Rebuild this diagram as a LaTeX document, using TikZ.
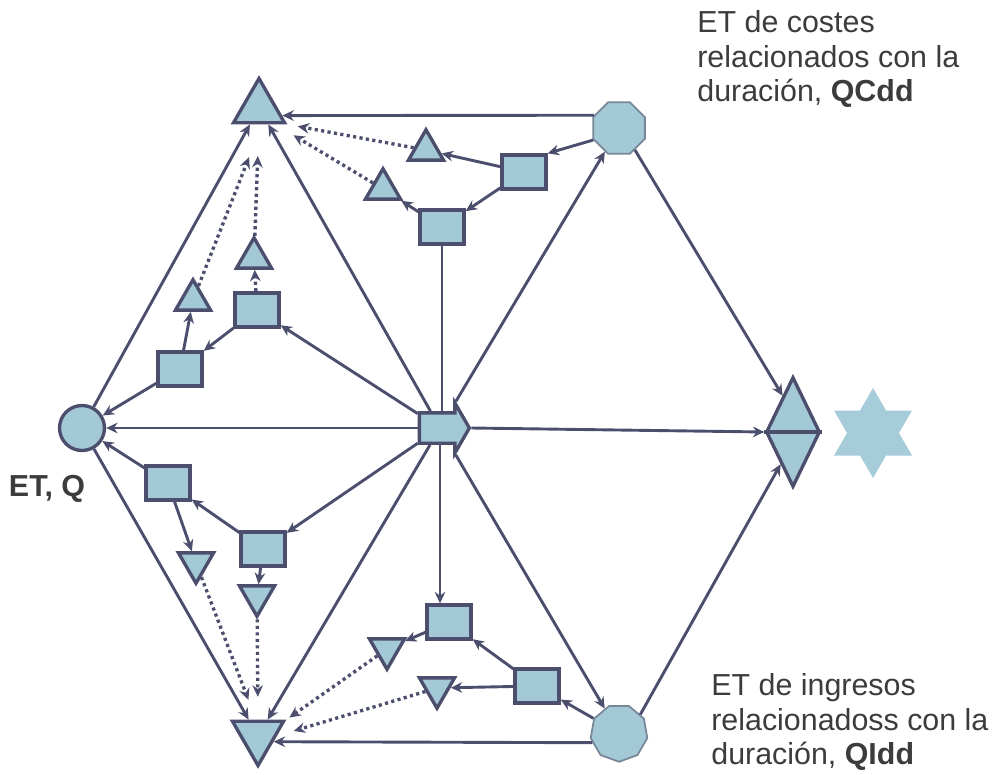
\documentclass[tikz,border=0pt]{standalone}
\usepackage{fontspec}
\setmainfont{Liberation Sans}
\usetikzlibrary{shapes.geometric,shapes.arrows,arrows.meta}

\definecolor{fillblue}{RGB}{163,200,214}
\definecolor{starblue}{RGB}{166,203,217}
\definecolor{edge}{RGB}{76,78,110}
\definecolor{octedge}{RGB}{120,135,152}
\definecolor{txtgray}{RGB}{60,60,62}

\tikzset{
  shapebox/.style={draw=edge, line width=1.9pt, fill=fillblue, inner sep=0pt},
  rectbox/.style={shapebox, rectangle, minimum width=8.8mm, minimum height=6.8mm},
  bigup/.style={shapebox, regular polygon, regular polygon sides=3, minimum size=11.8mm},
  bigdown/.style={bigup, shape border rotate=180},
  smallup/.style={shapebox, regular polygon, regular polygon sides=3, minimum size=8.1mm},
  smalldown/.style={smallup, shape border rotate=180},
  octbox/.style={draw=octedge, line width=1pt, fill=fillblue, inner sep=0pt, regular polygon},
  tipstyle/.style={-{Stealth[length=6.5pt,width=6pt]}},
  conn/.style={draw=edge, line width=1.65pt, tipstyle},
  plainconn/.style={draw=edge, line width=1.65pt},
  dotconn/.style={draw=edge, line width=1.9pt, dash pattern=on 1.8pt off 1.9pt, tipstyle},
  txtnote/.style={text=txtgray, font=\fontsize{17.3}{19.8}\selectfont, inner sep=0pt, align=left},
}

\begin{document}
\begin{tikzpicture}[x=0.02cm, y=-0.02cm]
\useasboundingbox (0,0) rectangle (993,774);

% outer ring of the hexagon
\node[shapebox, circle, minimum size=9mm] (C) at (82,428) {};
\node[bigup] (T1) at (259,108) {};
\node[bigdown] (T2) at (258,736) {};
\node[octbox, regular polygon sides=8, minimum size=11.2mm] (O1) at (619,128) {};
\node[octbox, regular polygon sides=9, shape border rotate=180, minimum size=11.5mm] (O2) at (619,733) {};
\node[shapebox, diamond, minimum width=10.8mm, minimum height=22mm] (D) at (793,432) {};
\draw[edge, line width=1.9pt] (D.west) -- (D.east);
\node[fill=starblue, star, star points=6, star point ratio=1.732, minimum size=18mm, inner sep=0pt] (S) at (873,433) {};

% central arrow
\node[shapebox, single arrow, single arrow tip angle=120, single arrow head extend=2mm,
      inner xsep=0pt, inner ysep=2.7mm, minimum height=10mm] (A) at (440,428) {};

% upper right group
\node[rectbox] (R1) at (524,172) {};
\node[rectbox] (R2) at (442,227) {};
\node[smallup] (t1) at (426,150) {};
\node[smallup] (t2) at (383,189) {};

% upper left group
\node[rectbox] (R3) at (180,369) {};
\node[rectbox] (R4) at (257,310) {};
\node[smallup] (t3) at (193,300) {};
\node[smallup] (t4) at (254,258) {};

% lower left group
\node[rectbox] (R5) at (168,483) {};
\node[rectbox] (R6) at (263,549) {};
\node[smalldown] (t5) at (196,563) {};
\node[smalldown] (t6) at (257,596) {};

% lower right group
\node[rectbox] (R7) at (449,622) {};
\node[rectbox] (R8) at (537,686) {};
\node[smalldown] (t7) at (387,649) {};
\node[smalldown] (t8) at (437,688) {};

% texts
\node[txtnote, anchor=north west] (tc) at (697,10)
  {ET de costes\\relacionados con la\\duración, \textbf{QCdd}};
\node[txtnote, anchor=north west] (ti) at (711,673)
  {ET de ingresos\\relacionadoss con la\\duración, \textbf{QIdd}};
\node[txtnote] (tq) at (47,489) {\bfseries ET, Q};

% hexagon edges
\draw[conn] (O1.153) -- (T1.-18);
\draw[conn] (O2.200) -- (T2.-20);
\draw[conn] (C) -- (T1);
\draw[conn] (C) -- (T2);
\draw[conn] (O1.-54) -- (D.106);
\draw[conn] (O2.41) -- (D.249);

% spokes from the centre
\draw[conn] (A) -- (C);
\draw[conn] (A.tip) -- (D.west);
\draw[conn] (A) -- (T1);
\draw[conn] (A) -- (T2);
\draw[conn] (A) -- (O1);
\draw[conn] (A) -- (O2);
\draw[conn] (A) -- (R4);
\draw[conn] (A) -- (R6);
\draw[plainconn] (R2.south) -- (R2.south |- A.north);
\draw[conn] (A.south) -- (A.south |- R7.north);

% upper right group links
\draw[conn] (O1.205) -- (R1.north east);
\draw[conn] (R1) -- (t1);
\draw[conn] (R1) -- (R2);
\draw[conn] (R2) -- (t2);
\draw[dotconn, shorten >=6pt] (t1) -- (T1.-30);
\draw[dotconn, shorten >=12pt] (t2) -- (T1.-45);

% upper left group links
\draw[conn] (R4) -- (R3);
\draw[conn] (R3) -- (C);
\draw[conn] (R3) -- (t3);
\draw[dotconn] (R4) -- (t4);
\draw[dotconn, shorten >=20pt] (t3) -- (T1.-80);
\draw[dotconn, shorten >=18pt] (t4) -- (T1.-90);

% lower left group links
\draw[conn] (R6) -- (R5);
\draw[conn] (R5) -- (C);
\draw[conn] (R5) -- (t5);
\draw[conn] (R6) -- (t6);
\draw[dotconn, shorten >=12pt] (t5) -- (T2.97);
\draw[dotconn, shorten >=13pt] (t6) -- (T2.90);

% lower right group links
\draw[conn] (O2) -- (R8);
\draw[conn] (R8) -- (R7);
\draw[conn] (R8) -- (t8);
\draw[conn] (R7) -- (t7);
\draw[dotconn, shorten >=2pt] (t7) -- (T2.30);
\draw[dotconn, shorten >=10pt] (t8) -- (T2.0);
\end{tikzpicture}
\end{document}
